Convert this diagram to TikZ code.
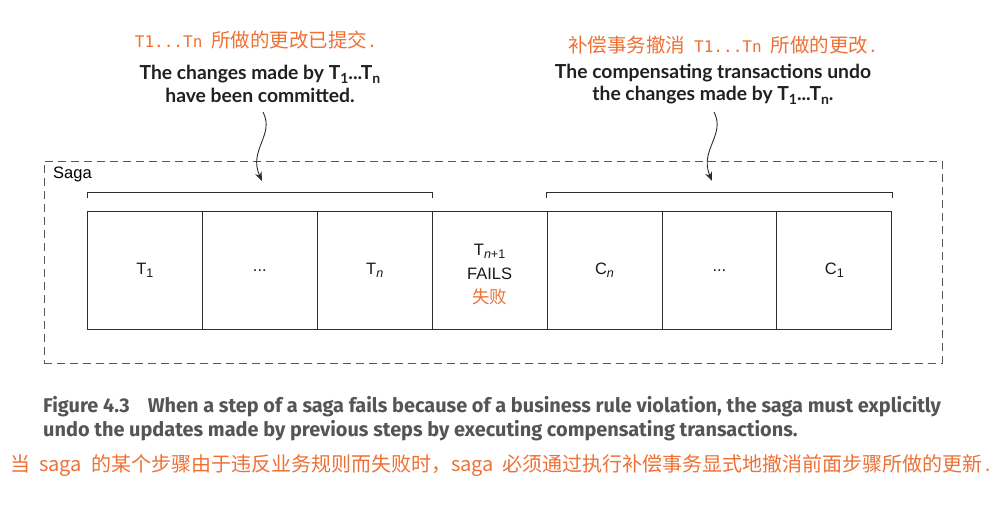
\documentclass[tikz,border=0pt]{standalone}
\usepackage{fontspec}
\usetikzlibrary{arrows.meta}
\setmainfont{Liberation Sans}
\newfontfamily\cjk{Noto Sans CJK SC}
\newfontfamily\headfont{Lato}
\newfontfamily\capfont{Fira Sans}
\newfontfamily\monof{DejaVu Sans Mono}
\definecolor{orng}{RGB}{238,112,52}
\definecolor{linec}{RGB}{45,45,45}
\definecolor{capgray}{RGB}{85,85,85}
\definecolor{headc}{RGB}{35,31,32}
\newcommand\lsub[1]{\raisebox{-0.4ex}{\fontsize{12.5}{12.5}\selectfont #1}}
\newcommand\hsub[1]{\raisebox{-0.35ex}{\fontsize{14}{14}\selectfont #1}}
\tikzset{
  cell/.style={draw=linec, line width=0.9pt, minimum width=114.9pt, minimum height=118pt,
    inner sep=0pt, anchor=north west, font=\fontsize{16.5}{23.5}\selectfont, align=center, text=black!90},
  celltext/.style={inner sep=0pt, font=\fontsize{16.5}{24}\selectfont, align=center, text=black!90},
  sagabox/.style={draw=linec!80, dash pattern=on 8pt off 5pt, line width=0.8pt,
    minimum width=898pt, minimum height=202pt, inner sep=0pt},
  bracket/.style={draw=linec, line width=0.9pt},
  curvy/.style={draw=linec, line width=0.9pt, -{Stealth[length=9pt,width=7pt]}},
  orlabel/.style={text=orng, font=\cjk\fontsize{19.5}{22}\selectfont, inner sep=0pt},
  heading/.style={text=headc, font=\headfont\bfseries\fontsize{19.3}{22.5}\selectfont, align=center, inner sep=0pt},
  caption/.style={text=capgray, font=\capfont\bfseries\fontsize{19.9}{23}\selectfont, anchor=base west, inner sep=0pt}
}
\newcommand\mono[1]{{\monof\fontsize{16}{20}\selectfont #1}}
\begin{document}
\begin{tikzpicture}[x=1pt,y=-1pt]
\useasboundingbox (0,0) rectangle (1003,506);

% saga box
\node[sagabox] (saga) at (493,262) {};
\node[anchor=north west, inner sep=0pt, font=\fontsize{16.5}{20}\selectfont] (sagalbl) at (53,167) {Saga};

% cells
\node[cell] (b1) at (87,211) {T\lsub{1}};
\node[cell] (b2) at (201.9,211) {...};
\node[cell] (b3) at (316.8,211) {T\lsub{\itshape n}};
\node[cell] (b4) at (431.7,211) {};
\node[celltext] (b4t) at ([yshift=-4pt]b4.center) {T\lsub{\itshape n\upshape+1}\\FAILS\\{\cjk\fontsize{17.5}{20}\selectfont\color{orng}失败}};
\node[cell] (b5) at (546.6,211) {C\lsub{\itshape n}};
\node[cell] (b6) at (661.5,211) {...};
\node[cell] (b7) at (776.4,211) {C\lsub{1}};

% brackets
\draw[bracket] ([yshift=13pt]b1.north west) -- ([yshift=19pt]b1.north west) -- ([yshift=19pt]b3.north east) -- ([yshift=13pt]b3.north east);
\draw[bracket] ([yshift=13pt]b5.north west) -- ([yshift=19pt]b5.north west) -- ([yshift=19pt]b7.north east) -- ([yshift=13pt]b7.north east);

% top labels
\node[orlabel] (or1) at (256,40) {\mono{T1...Tn}\hspace{9pt}所做的更改已提交\mono{.}};
\node[orlabel] (or2) at (723,45) {补偿事务撤消\hspace{9pt}\mono{T1...Tn}\hspace{9pt}所做的更改\mono{.}};
\node[heading] (h1) at (260,84) {The changes made by T\hsub{1}...T\hsub{n}\\have been committed.};
\node[heading] (h2) at (713,84) {The compensating transactions undo\\the changes made by T\hsub{1}...T\hsub{n}.};

% curvy arrows
\coordinate (a1s) at (263,112);
\coordinate (a1e) at (262,181);
\coordinate (a2s) at (714,112);
\coordinate (a2e) at (712,181);
\draw[curvy] (a1s) .. controls (275,135) and (248,150) .. (a1e);
\draw[curvy] (a2s) .. controls (726,135) and (699,150) .. (a2e);

% caption
\node[caption] (cap1) at (43,412) {Figure 4.3\hspace{18pt}When a step of a saga fails because of a business rule violation, the saga must explicitly};
\node[caption] (cap2) at (43,436) {undo the updates made by previous steps by executing compensating transactions.};
\node[orlabel, anchor=base west, font=\cjk\fontsize{20}{22}\selectfont] (cap3) at (10,471) {当\hspace{9pt}saga\hspace{9pt}的某个步骤由于违反业务规则而失败时，saga\hspace{9pt}必须通过执行补偿事务显式地撤消前面步骤所做的更新\mono{.}};
\end{tikzpicture}
\end{document}
